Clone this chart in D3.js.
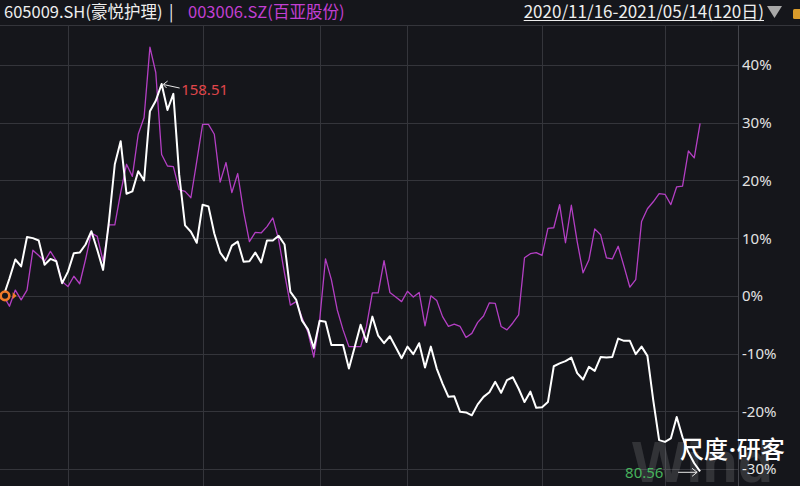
<!DOCTYPE html>
<html><head><meta charset="utf-8">
<script src="https://cdn.jsdelivr.net/npm/d3@7/dist/d3.min.js"></script>
<style>
html,body{margin:0;padding:0;background:#15161b;}
svg{display:block;}
</style></head>
<body>
<svg id="chart" width="800" height="486"></svg>
<script>
// ---- data (cumulative % change since 2020/11/16, 120 trading days) ----
const seriesNames = ["605009.SH(豪悦护理)", "003006.SZ(百亚股份)"];
const dateRange = "2020/11/16-2021/05/14(120日)";
const yTicks = [40, 30, 20, 10, 0, -10, -20, -30];
// month-start trading-day indices: 12/01, 01/04, 02/01, 03/01, 04/01, 05/06
const monthStartIdx = [11, 34, 54, 69, 92, 113];
const haoyue = [0,3.0,6.3,5.1,10.2,10.0,9.6,5.4,6.4,6.0,2.2,4.2,7.4,7.5,8.9,11.2,8.0,4.5,12.9,22.8,
  26.8,17.7,18.1,21.6,20.0,32.0,33.8,36.7,32.2,35.0,21.0,12.2,11.1,9.2,15.8,15.5,10.8,7.5,6.1,8.7,
  9.4,5.9,6.0,7.5,5.8,9.6,9.6,10.4,8.9,0.7,-0.7,-4.3,-5.8,-9.1,-4.3,-4.5,-8.5,-8.5,-8.5,-12.6,
  -8.8,-5.0,-8.0,-3.6,-6.9,-8.2,-7.0,-8.9,-10.8,-8.8,-10.1,-8.2,-12.4,-8.8,-12.6,-15.2,-17.5,-17.4,-20.1,-20.2,
  -20.7,-18.8,-17.5,-16.7,-14.9,-16.8,-14.6,-14.1,-16.1,-18.4,-16.6,-19.4,-19.3,-18.4,-12.2,-11.7,-11.3,-10.7,-13.4,-14.5,
  -12.3,-13.0,-10.6,-10.7,-10.6,-7.4,-7.8,-7.8,-10.1,-8.8,-10.4,-18.1,-25.0,-25.3,-24.7,-21.0,-24.5,-27.1,-29.0,-30.4];
const baiya = [0,-1.8,1.0,-0.7,1.0,7.9,7.0,6.0,7.7,6.1,2.5,1.6,3.4,2.1,6.3,10.9,10.3,6.0,12.3,12.3,
  17.9,22.8,20.7,28.0,30.9,43.1,38.7,24.5,22.5,22.4,18.4,18.1,17.0,23.3,29.7,29.7,28.0,19.7,23.1,17.9,
  21.2,14.6,9.4,11.0,10.9,12.0,13.5,9.7,3.9,-1.6,-1.0,-3.8,-6.3,-10.6,-4.2,6.4,2.8,-2.4,-5.9,-8.8,
  -8.8,-8.8,-5.3,0.5,0.5,6.1,0.6,-0.2,-1.0,0.8,-0.2,0.6,-5.2,0.0,-0.8,-3.6,-5.3,-4.9,-5.3,-7.2,
  -6.5,-4.6,-3.5,-1.2,-1.3,-5.3,-5.9,-4.7,-3.3,6.6,7.3,7.5,7.0,11.7,11.8,15.8,9.2,15.7,9.4,4.0,
  6.2,11.6,10.6,6.6,6.4,8.6,5.1,1.5,2.8,12.9,15.1,16.3,17.7,17.6,15.8,18.9,19.0,25.1,23.9,29.9];
const maxLabel = "158.51";
const minLabel = "80.56";
const watermarkParts = ["尺度", "·", "研客"];

// ---- layout ----
const svg = d3.select("#chart");
const W = 800, H = 486;
const plotTop = 25, plotRight = 738;
const gridColor = "#34353b";
const x = d3.scaleLinear().domain([0, haoyue.length - 1]).range([3.6, 700.1]);
const y = d3.scaleLinear().domain([-30, 40]).range([469, 65]);

svg.append("rect").attr("width", W).attr("height", H).attr("fill", "#15161b");

// horizontal grid
svg.append("g").selectAll("line").data(yTicks).join("line")
  .attr("x1", 0).attr("x2", plotRight).attr("y1", d => Math.round(y(d)) + 0.5).attr("y2", d => Math.round(y(d)) + 0.5)
  .attr("stroke", gridColor).attr("stroke-width", 1);
// vertical grid
svg.append("g").selectAll("line").data(monthStartIdx).join("line")
  .attr("x1", d => Math.round(x(d)) + 0.5).attr("x2", d => Math.round(x(d)) + 0.5)
  .attr("y1", plotTop).attr("y2", H)
  .attr("stroke", gridColor).attr("stroke-width", 1);
// top border and right axis line
svg.append("line").attr("x1", 0).attr("x2", W).attr("y1", plotTop + 0.5).attr("y2", plotTop + 0.5).attr("stroke", gridColor);
svg.append("line").attr("x1", plotRight + 0.5).attr("x2", plotRight + 0.5).attr("y1", plotTop).attr("y2", H).attr("stroke", "#44454b");

// y labels
svg.append("g").selectAll("text").data(yTicks).join("text")
  .attr("x", 742).attr("y", d => y(d)).attr("dy", "0.36em")
  .attr("fill", "#e2e2e2").attr("font-family", "Noto Sans, sans-serif").attr("font-size", 15)
  .text(d => d + "%");

// Wind watermark
svg.append("text").attr("x", 632).attr("y", 482)
  .attr("font-family", "Liberation Sans, Arial, sans-serif").attr("font-weight", "bold")
  .attr("font-size", 58).attr("fill", "#ffffff").attr("opacity", 0.12).text("Wind");

// lines
const line = d3.line().x((d, i) => x(i)).y(d => y(d));
svg.append("path").datum(baiya).attr("d", line).attr("fill", "none")
  .attr("stroke", "#b43fc4").attr("stroke-width", 1.3).attr("stroke-linejoin", "round");
svg.append("path").datum(haoyue).attr("d", line).attr("fill", "none")
  .attr("stroke", "#ffffff").attr("stroke-width", 2).attr("stroke-linejoin", "round");

// start marker
svg.append("circle").attr("cx", x(0) + 1.4).attr("cy", y(0)).attr("r", 4.3)
  .attr("fill", "#15161b").attr("stroke", "#f07a2a").attr("stroke-width", 2.6);
svg.append("path").attr("d", `M${x(0)+9},${y(0)-3.5} L${x(0)+13},${y(0)} L${x(0)+9},${y(0)+3.5} Z`).attr("fill", "#f07a2a");

// max annotation
const iMax = haoyue.indexOf(d3.max(haoyue));
const px = x(iMax), py = y(haoyue[iMax]);
svg.append("line").attr("x1", px + 2).attr("y1", py + 0.5).attr("x2", px + 18).attr("y2", py + 4)
  .attr("stroke", "#e8e8e8").attr("stroke-width", 1);
svg.append("path").attr("d", `M${px+6},${py-3} L${px+1.5},${py+0.5} L${px+5},${py+4}`)
  .attr("fill", "none").attr("stroke", "#e8e8e8").attr("stroke-width", 1);
svg.append("text").attr("x", px + 19.5).attr("y", py + 11)
  .attr("fill", "#e0464b").attr("font-family", "Noto Sans, sans-serif").attr("font-size", 15).text(maxLabel);

// min annotation
const iMin = haoyue.indexOf(d3.min(haoyue));
const mx = x(iMin), my = y(haoyue[iMin]);
svg.append("text").attr("x", mx - 75).attr("y", my + 1).attr("dy", "0.36em")
  .attr("fill", "#47b25c").attr("font-family", "Noto Sans, sans-serif").attr("font-size", 15).text(minLabel);
svg.append("line").attr("x1", mx - 22).attr("y1", my + 1).attr("x2", mx - 3).attr("y2", my + 1)
  .attr("stroke", "#e8e8e8").attr("stroke-width", 1);
svg.append("path").attr("d", `M${mx-8},${my-3} L${mx-3},${my+1} L${mx-8},${my+5}`)
  .attr("fill", "none").attr("stroke", "#e8e8e8").attr("stroke-width", 1);

// watermark text
const wm = svg.append("text").attr("x", 680).attr("y", 458)
  .attr("fill", "#ffffff").attr("font-family", "Noto Sans CJK SC, sans-serif").attr("font-weight", 500)
  .attr("font-size", 24);
wm.append("tspan").text(watermarkParts[0]);
wm.append("tspan").attr("font-family", "Noto Sans, sans-serif").attr("font-weight", 700).attr("dx", 1).text(watermarkParts[1]);
wm.append("tspan").attr("dx", 1).text(watermarkParts[2]);

// header
svg.append("text").attr("x", 4).attr("y", 18)
  .attr("font-family", "Noto Sans CJK SC, Noto Sans, sans-serif").attr("font-size", 16.5)
  .attr("fill", "#eeeeee").text(seriesNames[0]);
svg.append("text").attr("x", 169).attr("y", 18)
  .attr("font-family", "Noto Sans CJK SC, Noto Sans, sans-serif").attr("font-size", 16.5)
  .attr("fill", "#eeeeee").text("|");
svg.append("text").attr("x", 188).attr("y", 18)
  .attr("font-family", "Noto Sans CJK SC, Noto Sans, sans-serif").attr("font-size", 16.5)
  .attr("fill", "#c23fd2").text(seriesNames[1]);

const dr = svg.append("text").attr("x", 764).attr("y", 18).attr("text-anchor", "end")
  .attr("font-family", "Noto Sans CJK SC, Noto Sans, sans-serif").attr("font-size", 17)
  .attr("fill", "#eeeeee").text(dateRange);
const drw = dr.node().getComputedTextLength();
svg.append("line").attr("x1", 764 - drw).attr("x2", 764).attr("y1", 20.5).attr("y2", 20.5)
  .attr("stroke", "#eeeeee").attr("stroke-width", 1);
svg.append("path").attr("d", "M767,6 L782,6 L774.5,18 Z").attr("fill", "#a8a8a8");
svg.append("rect").attr("x", 793).attr("y", 9).attr("width", 10).attr("height", 10).attr("rx", 1.5).attr("fill", "#d99b2b");
</script>
</body></html>
